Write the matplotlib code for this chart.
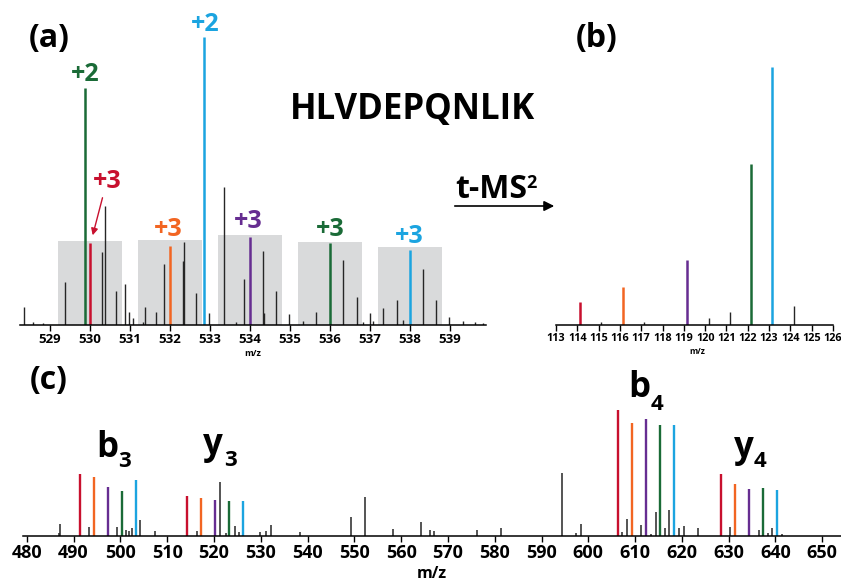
import matplotlib
matplotlib.use("Agg")
import matplotlib.pyplot as plt

plt.rcParams["font.family"] = ["Open Sans", "DejaVu Sans"]
plt.rcParams["font.weight"] = "bold"

W, H = 841, 583

# channel colours
RED = "#c8102e"
ORANGE = "#f26522"
PURPLE = "#662d91"
GREEN = "#1a6b37"
BLUE = "#1ba4e0"
DARK = "#262626"

# ---- panel (a): precursor isolation window ----
a_mz = [528.35, 528.58, 528.83, 529.37, 530.30, 530.37, 530.65, 530.87, 530.98,
        531.08, 531.32, 531.37, 531.65, 531.86, 532.32, 532.36, 532.65, 532.98,
        533.36, 533.65, 533.86, 534.32, 534.36, 534.65, 534.98, 535.33, 535.65,
        536.33, 536.67, 536.83, 537.00, 537.08, 537.33, 537.67, 537.82, 538.33,
        538.65, 538.98, 539.32, 539.62, 539.83]
a_int = [6.3, 1.0, 0.7, 14.9, 25.3, 41.3, 11.8, 14.2, 4.5,
         2.4, 1.0, 6.3, 4.5, 21.2, 22.2, 28.8, 11.1, 4.2,
         47.9, 1.0, 16.0, 25.7, 4.2, 11.8, 3.8, 1.4, 4.5,
         22.6, 9.7, 1.0, 4.2, 1.4, 5.9, 8.7, 1.7, 19.4,
         8.7, 2.8, 1.4, 1.0, 0.7]

a_ion_mz = [529.875, 530.0, 532.0, 532.86, 534.0, 536.0, 538.0]
a_ion_int = [82.3, 28.5, 27.4, 100.0, 30.6, 28.5, 26.0]
a_ion_col = [GREEN, RED, ORANGE, BLUE, PURPLE, GREEN, BLUE]
a_ion_lab = ["+2", "+3", "+3", "+2", "+3", "+3", "+3"]

box_mz = [530, 532, 534, 536, 538]
box_top = [29.2, 29.5, 31.3, 28.8, 27.1]

# ---- panel (b): reporter ions ----
b_mz = [115.10, 117.15, 120.17, 121.17, 124.18]
b_int = [1.2, 1.2, 2.7, 5.0, 7.4]
rep_mz = [114.13, 116.14, 119.15, 122.16, 123.16]
rep_int = [8.9, 14.7, 25.2, 62.4, 100.0]
rep_col = [RED, ORANGE, PURPLE, GREEN, BLUE]

# ---- panel (c): fragment ions ----
c_mz = [486.8, 487.0, 493.3, 499.2, 501.3, 501.8, 502.4, 504.1, 507.4, 516.3,
        521.2, 522.5, 524.4, 525.3, 529.9, 531.2, 532.3, 538.3, 549.2, 552.3,
        558.2, 564.2, 566.1, 567.0, 576.2, 581.3, 594.3, 597.3, 598.4, 607.1,
        608.2, 611.2, 613.3, 614.4, 616.3, 617.2, 619.3, 620.4, 623.4, 630.2,
        636.4, 638.3, 639.2, 641.3]
c_int = [2.4, 9.5, 7.1, 7.1, 4.8, 4.0, 6.3, 12.7, 4.0, 4.0,
         42.9, 2.4, 7.9, 3.2, 3.2, 4.0, 8.7, 3.2, 15.1, 31.0,
         5.6, 11.1, 4.8, 4.0, 4.8, 6.3, 50.0, 2.4, 9.5, 3.2,
         13.5, 8.7, 1.6, 19.0, 6.3, 20.6, 6.3, 7.9, 6.3, 7.1,
         4.8, 2.4, 6.3, 1.6]

frag_mz = [491.3, 494.3, 497.3, 500.3, 503.3,
           514.3, 517.3, 520.3, 523.3, 526.3,
           606.3, 609.3, 612.3, 615.3, 618.3,
           628.3, 631.3, 634.3, 637.3, 640.3]
frag_int = [49.2, 46.8, 38.9, 35.7, 44.4,
            31.7, 30.2, 28.6, 27.8, 27.8,
            100.0, 89.7, 92.9, 88.1, 88.1,
            49.2, 41.3, 37.3, 38.1, 36.5]
frag_col = [RED, ORANGE, PURPLE, GREEN, BLUE] * 4


fig = plt.figure(figsize=(W / 100, H / 100), dpi=100)


def axes_px(left, right, top, base):
    return fig.add_axes([left / W, 1 - base / H, (right - left) / W, (base - top) / H])


def fig_text(x, y, s, **kw):
    fig.text(x / W, 1 - y / H, s, **kw)


def style_axis(ax, ticks, lo, hi, size):
    for side in ["left", "right", "top"]:
        ax.spines[side].set_visible(False)
    ax.spines["bottom"].set_linewidth(1.1)
    ax.set_xlim(lo, hi)
    ax.set_yticks([])
    ax.set_xticks(list(ticks))
    ax.tick_params(axis="x", length=4, width=1, pad=1.5, labelsize=size)
    ax.patch.set_alpha(0)


# panel (a)
ax_a = axes_px(20, 486, 0, 325)
style_axis(ax_a, range(529, 540), 528.25, 539.9, 9.5)
ax_a.set_ylim(0, 112.8)
ax_a.bar(box_mz, box_top, width=1.6, color="#d9dadb", zorder=0)
ax_a.vlines(a_mz, 0, a_int, color=DARK, lw=1.0)
ax_a.vlines(a_ion_mz, 0, a_ion_int, colors=a_ion_col, lw=1.8)

lab_pos = [(529.875, 86.8), (530.425, 49.7), (531.95, 33.3), (532.875, 104.2),
           (533.95, 35.8), (536.0, 33.0), (537.98, 30.6)]
for (x, y), lab, col in zip(lab_pos, a_ion_lab, a_ion_col):
    ax_a.text(x, y, lab, color=col, fontsize=18, ha="center", va="center")

ax_a.annotate("", xy=(530.05, 30.2), xytext=(530.33, 45.1),
              arrowprops=dict(arrowstyle="-|>", color=RED, lw=1.0, mutation_scale=10))
ax_a.text(535.0, 74.7, "HLVDEPQNLIK", fontsize=25, ha="left", va="center")

fig_text(49, 38, "(a)", fontsize=23, ha="center", va="center")
fig_text(253, 354, "m/z", fontsize=6.5, ha="center", va="center")

# t-MS2 arrow
fig_text(455, 198, "t-MS", fontsize=23, ha="left", va="baseline")
fig_text(526, 174, "2", fontsize=13, ha="left", va="top")
ax_a.annotate("", xy=(557, H - 206), xytext=(452, H - 206),
              xycoords="figure pixels", textcoords="figure pixels",
              arrowprops=dict(arrowstyle="-|>", color="black", lw=1.2, mutation_scale=15))

# panel (b)
ax_b = axes_px(556, 833, 40, 325)
style_axis(ax_b, range(113, 127), 113, 126, 7.8)
ax_b.set_ylim(0, 110.5)
ax_b.vlines(b_mz, 0, b_int, color=DARK, lw=1.0)
ax_b.vlines(rep_mz, 0, rep_int, colors=rep_col, lw=1.8)
fig_text(597, 38, "(b)", fontsize=23, ha="center", va="center")
fig_text(697, 352, "m/z", fontsize=6, ha="center", va="center")

# panel (c)
ax_c = axes_px(23, 841, 360, 536)
style_axis(ax_c, range(480, 651, 10), 479.2, 654, 13)
ax_c.set_ylim(0, 139.7)
ax_c.vlines(c_mz, 0, c_int, color=DARK, lw=1.1)
ax_c.vlines(frag_mz, 0, frag_int, colors=frag_col, lw=1.7)

fig_text(49, 380, "(c)", fontsize=23, ha="center", va="center")
fig_text(432, 578, "m/z", fontsize=11.5, ha="center", va="baseline")

for letter, sub, x, y, xs, ys in [("b", "3", 107, 457, 118, 467),
                                  ("y", "3", 213, 454, 224, 466),
                                  ("b", "4", 639, 397, 651, 410),
                                  ("y", "4", 744, 457, 754, 467)]:
    fig_text(x, y, letter, fontsize=25, ha="center", va="baseline")
    fig_text(xs, ys, sub, fontsize=16, ha="left", va="baseline")

fig.savefig("out.png", dpi=100)
